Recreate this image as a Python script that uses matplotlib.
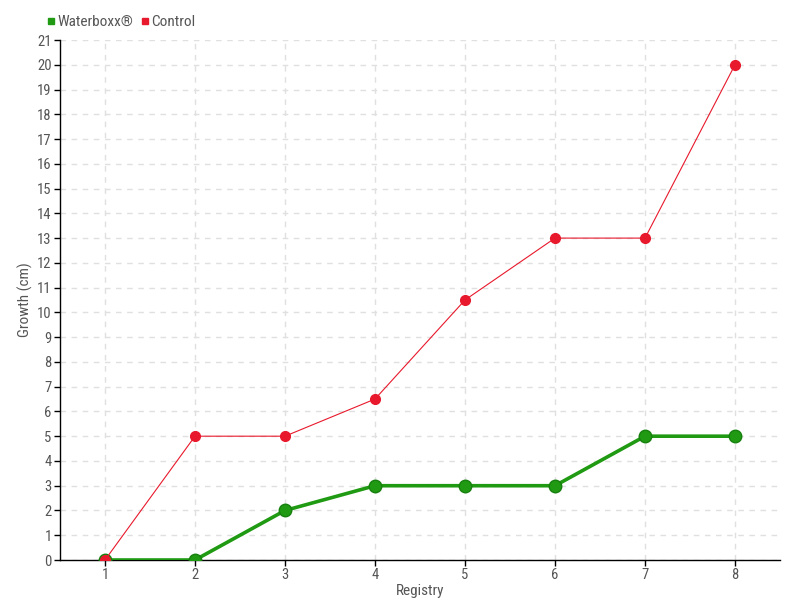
import matplotlib.pyplot as plt
from matplotlib import font_manager

# data
registry = [1, 2, 3, 4, 5, 6, 7, 8]
waterboxx = [0, 0, 2, 3, 3, 3, 5, 5]
control = [0, 5, 5, 6.5, 10.5, 13, 13, 20]

names = {f.name for f in font_manager.fontManager.ttflist}
fam = 'DejaVu Sans'
for cand in ['Liberation Sans Narrow', 'DejaVu Sans Condensed', 'Roboto Condensed']:
    if cand in names:
        fam = cand
        break
plt.rcParams['font.family'] = [fam, 'DejaVu Sans']
plt.rcParams['font.stretch'] = 'condensed'

txt = '#555555'
green = '#1f9a12'
red = '#e8192c'

fig = plt.figure(figsize=(8, 6), dpi=100)
ax = fig.add_axes([60/800, 40/600, 720/800, 520/600])

ax.plot(registry, waterboxx, color=green, lw=2.6, marker='o', ms=9,
        mfc=green, mec='#17800f', mew=1, zorder=3, label='Waterboxx®')
ax.plot(registry, control, color=red, lw=0.8, marker='o', ms=7,
        mfc=red, mec=red, zorder=4, label='Control')

ax.set_xlim(0.5, 8.5)
ax.set_ylim(0, 21)
ax.set_xticks(registry)
ax.set_yticks(range(0, 22))
ax.grid(True, color='#e0e0e0', ls=(0, (4, 4)), lw=1)
ax.set_axisbelow(True)

for s in ['top', 'right']:
    ax.spines[s].set_visible(False)
for s in ['left', 'bottom']:
    ax.spines[s].set_color('black')
    ax.spines[s].set_linewidth(1)
ax.tick_params(colors='black', labelcolor=txt, labelsize=10.5, length=4, width=1, pad=2)

ax.set_xlabel('Registry', color=txt, fontsize=11, labelpad=1)
ax.set_ylabel('Growth (cm)', color=txt, fontsize=11, labelpad=3)

h = [plt.Line2D([], [], ls='', marker='s', color=green, ms=4.5),
     plt.Line2D([], [], ls='', marker='s', color=red, ms=4.5)]
leg = fig.legend(h, ['Waterboxx®', 'Control'], loc='center left',
                 bbox_to_anchor=(48/800, 1 - 22/600), ncol=2, frameon=False,
                 handlelength=0.4, handletextpad=0.25, columnspacing=0.5,
                 fontsize=11, labelcolor=txt, borderpad=0, borderaxespad=0)

fig.savefig('out.png', dpi=100)
